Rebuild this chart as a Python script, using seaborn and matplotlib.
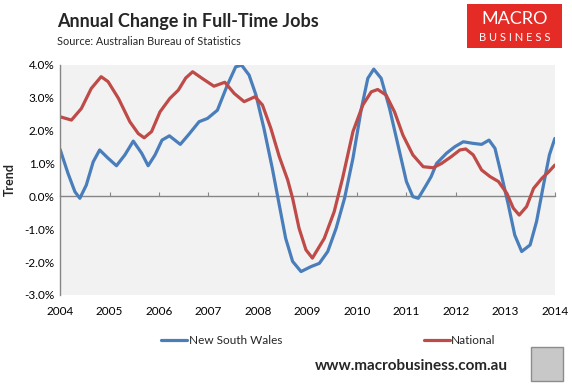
import numpy as np
import pandas as pd
import matplotlib
matplotlib.use("Agg")
import matplotlib.pyplot as plt
from matplotlib.patches import Rectangle
from matplotlib.ticker import FuncFormatter, MultipleLocator
import seaborn as sns

# values (year fraction, % annual change)
nsw_t = [2004.0, 2004.16, 2004.3, 2004.4, 2004.53, 2004.67, 2004.8, 2004.97, 2005.14, 2005.31,
         2005.48, 2005.65, 2005.78, 2005.92, 2006.06, 2006.21, 2006.43, 2006.6, 2006.81, 2006.98,
         2007.18, 2007.38, 2007.55, 2007.67, 2007.82, 2007.96, 2008.12, 2008.29, 2008.43, 2008.56,
         2008.7, 2008.87, 2009.07, 2009.24, 2009.41, 2009.58, 2009.75, 2009.92, 2010.09, 2010.22,
         2010.34, 2010.49, 2010.66, 2010.83, 2011.0, 2011.13, 2011.24, 2011.4, 2011.5, 2011.61,
         2011.81, 2011.98, 2012.15, 2012.35, 2012.52, 2012.67, 2012.79, 2012.92, 2013.06, 2013.19,
         2013.33, 2013.5, 2013.63, 2013.77, 2013.89, 2014.0]
nsw_v = [1.43, 0.70, 0.14, -0.06, 0.34, 1.05, 1.41, 1.16, 0.93, 1.26,
         1.68, 1.31, 0.93, 1.26, 1.71, 1.84, 1.58, 1.88, 2.27, 2.37,
         2.62, 3.38, 3.94, 3.99, 3.69, 3.08, 2.07, 0.85, -0.26, -1.28,
         -1.98, -2.29, -2.14, -2.04, -1.68, -0.97, -0.06, 1.16, 2.67, 3.59,
         3.87, 3.59, 2.67, 1.56, 0.45, -0.01, -0.06, 0.34, 0.60, 1.00,
         1.31, 1.51, 1.66, 1.61, 1.58, 1.71, 1.46, 0.65, -0.26, -1.18,
         -1.68, -1.48, -0.77, 0.34, 1.26, 1.76]

nat_t = [2004.0, 2004.23, 2004.43, 2004.63, 2004.83, 2004.97, 2005.18, 2005.41, 2005.58, 2005.7,
         2005.85, 2006.02, 2006.22, 2006.39, 2006.54, 2006.68, 2006.87, 2007.11, 2007.33, 2007.52,
         2007.72, 2007.94, 2008.09, 2008.26, 2008.43, 2008.6, 2008.7, 2008.83, 2008.97, 2009.1,
         2009.34, 2009.54, 2009.71, 2009.92, 2010.12, 2010.29, 2010.42, 2010.59, 2010.76, 2010.93,
         2011.13, 2011.34, 2011.54, 2011.71, 2011.91, 2012.08, 2012.2, 2012.35, 2012.52, 2012.69,
         2012.86, 2013.03, 2013.16, 2013.28, 2013.43, 2013.57, 2013.74, 2013.88, 2014.0]
nat_v = [2.42, 2.32, 2.67, 3.28, 3.64, 3.49, 2.98, 2.27, 1.91, 1.78,
         1.97, 2.57, 2.98, 3.23, 3.60, 3.79, 3.59, 3.35, 3.47, 3.13,
         2.88, 3.03, 2.78, 2.07, 1.21, 0.50, -0.06, -0.97, -1.63, -1.88,
         -1.28, -0.47, 0.55, 1.97, 2.78, 3.18, 3.25, 3.08, 2.57, 1.86,
         1.26, 0.90, 0.87, 1.00, 1.21, 1.41, 1.44, 1.26, 0.80, 0.60,
         0.45, 0.09, -0.36, -0.57, -0.31, 0.24, 0.55, 0.75, 0.95]

years = list(range(2004, 2015))

df = pd.concat([
    pd.DataFrame({"t": nsw_t, "v": nsw_v, "series": "New South Wales"}),
    pd.DataFrame({"t": nat_t, "v": nat_v, "series": "National"}),
])

sns.set_style("white")
plt.rcParams["font.family"] = ["Lato", "DejaVu Sans"]

fig = plt.figure(figsize=(5.72, 3.86), dpi=100)
ax = fig.add_axes([0.105, 0.236, 0.865, 0.596])
ax.set_facecolor("#F2F2F2")

sns.lineplot(data=df, x="t", y="v", hue="series", sort=False, estimator=None,
             palette={"New South Wales": "#4A7EBB", "National": "#BE4B48"},
             linewidth=2.3, ax=ax, legend=True)
for ln in ax.lines:
    ln.set_solid_joinstyle("round")
    ln.set_solid_capstyle("round")

ax.set_xlim(2004, 2014)
ax.set_ylim(-3, 4)
ax.yaxis.set_major_locator(MultipleLocator(1))
ax.yaxis.set_major_formatter(FuncFormatter(lambda v, p: f"{v:.1f}%"))
ax.set_xticks(years)
ax.set_xticklabels([str(y) for y in years])
ax.tick_params(axis="x", length=0, pad=8, labelsize=8.5, colors="black")
ax.tick_params(axis="y", length=0, pad=4, labelsize=8.5, colors="black")
ax.set_xlabel("")
ax.set_ylabel("Trend", fontsize=9, fontweight="bold", labelpad=6)

for s in ["top", "right", "bottom"]:
    ax.spines[s].set_visible(False)
ax.spines["left"].set_color("#868686")
ax.spines["left"].set_linewidth(1)

# category axis crossing at zero with small inward ticks
sec = ax.secondary_xaxis(3 / 7)
sec.set_xticks(years)
sec.set_xticklabels([])
sec.tick_params(axis="x", direction="in", length=3, color="#868686")
sec.spines["bottom"].set_color("#868686")
sec.spines["bottom"].set_linewidth(1)

handles, labels = ax.get_legend_handles_labels()
ax.get_legend().remove()
fig.legend(handles, labels, loc="center", bbox_to_anchor=(0.574, 0.117), ncol=2,
           frameon=False, fontsize=8.5, handlelength=2.2, handletextpad=0.1,
           columnspacing=12)

fig.text(0.1, 0.945, "Annual Change in Full-Time Jobs", fontsize=13, fontweight="bold", va="center")
fig.text(0.1, 0.893, "Source: Australian Bureau of Statistics", fontsize=7.8, va="center")

# logo block
fig.patches.append(Rectangle((0.817, 0.875), 0.166, 0.115, transform=fig.transFigure,
                             facecolor="#E52B25", edgecolor="none"))
fig.text(0.9, 0.952, "MACRO", color="white", fontsize=13, ha="center", va="center")
fig.text(0.9, 0.902, "B U S I N E S S", color="white", fontsize=8, ha="center", va="center")

fig.text(0.72, 0.051, "www.macrobusiness.com.au", fontsize=11, fontweight="bold",
         ha="center", va="center")
fig.patches.append(Rectangle((0.928, 0.012), 0.056, 0.088, transform=fig.transFigure,
                             facecolor="#C8C8C8", edgecolor="#8C8C8C", linewidth=1))

fig.savefig("out.png", dpi=100)
